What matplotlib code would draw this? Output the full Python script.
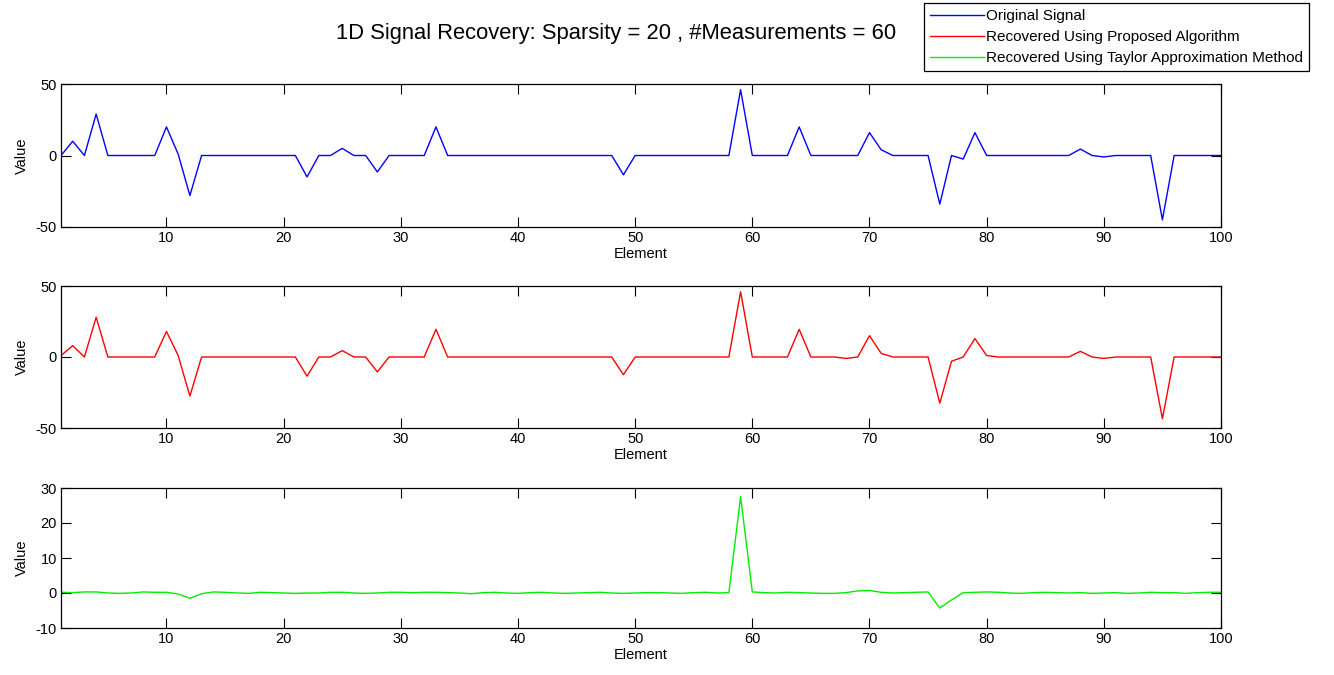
import matplotlib
matplotlib.use("Agg")
import matplotlib.pyplot as plt
import numpy as np

plt.rcParams['font.family'] = ['Liberation Sans', 'DejaVu Sans']
plt.rcParams['axes.unicode_minus'] = False

element = list(range(1, 101))

original = [0, 10, 0, 29, 0, 0, 0, 0, 0, 20,
            1, -28, 0, 0, 0, 0, 0, 0, 0, 0,
            0, -15, 0, 0, 5, 0, 0, -11.5, 0, 0,
            0, 0, 20, 0, 0, 0, 0, 0, 0, 0,
            0, 0, 0, 0, 0, 0, 0, 0, -13.5, 0,
            0, 0, 0, 0, 0, 0, 0, 0, 46, 0,
            0, 0, 0, 20, 0, 0, 0, 0, 0, 16,
            4, 0, 0, 0, 0, -34, 0, -2.5, 16, 0,
            0, 0, 0, 0, 0, 0, 0, 4.5, 0, -1,
            0, 0, 0, 0, -45, 0, 0, 0, 0, 0]

proposed = [1, 8, 0, 28, 0, 0, 0, 0, 0, 18,
            1, -27.5, 0, 0, 0, 0, 0, 0, 0, 0,
            0, -13.5, 0, 0, 4.5, 0, 0, -10.5, 0, 0,
            0, 0, 19.5, 0, 0, 0, 0, 0, 0, 0,
            0, 0, 0, 0, 0, 0, 0, 0, -12.5, 0,
            0, 0, 0, 0, 0, 0, 0, 0, 46, 0,
            0, 0, 0, 19.5, 0, 0, 0, -1, 0, 15,
            2.5, 0, 0, 0, 0, -32.5, -3, 0, 13, 1,
            0, 0, 0, 0, 0, 0, 0, 4, 0, -1,
            0, 0, 0, 0, -43.5, 0, 0, 0, 0, 0]

taylor = [0.2, 0.1, 0.3, 0.3, 0.0, -0.1, 0.0, 0.3, 0.2, 0.2,
          -0.3, -1.5, -0.2, 0.3, 0.2, 0.0, -0.1, 0.2, 0.1, 0.0,
          -0.1, 0.0, 0.0, 0.2, 0.2, 0.0, -0.1, 0.0, 0.2, 0.2,
          0.1, 0.2, 0.2, 0.1, 0.0, -0.2, 0.1, 0.2, 0.0, -0.1,
          0.1, 0.2, 0.0, -0.1, 0.0, 0.1, 0.2, 0.0, -0.1, 0.0,
          0.1, 0.1, 0.0, -0.1, 0.1, 0.2, 0.0, 0.1, 27.5, 0.3,
          0.1, 0.0, 0.2, 0.1, 0.0, -0.1, -0.1, 0.1, 0.6, 0.7,
          0.2, 0.0, 0.1, 0.2, 0.3, -4.3, -2.0, 0.1, 0.2, 0.3,
          0.2, 0.0, -0.1, 0.1, 0.2, 0.1, 0.0, 0.1, -0.1, 0.0,
          0.1, -0.1, 0.0, 0.2, 0.1, 0.1, -0.1, 0.1, 0.2, 0.2]

series = [original, proposed, taylor]
colors = ['#0000ff', '#ff0000', '#00ee00']
labels = ['Original Signal', 'Recovered Using Proposed Algorithm',
          'Recovered Using Taylor Approximation Method']
ylims = [(-50, 50), (-50, 50), (-10, 30)]
yticks = [[-50, 0, 50], [-50, 0, 50], [-10, 0, 10, 20, 30]]
xticks = [10, 20, 30, 40, 50, 60, 70, 80, 90, 100]

W, H = 1334, 675
fig = plt.figure(figsize=(W / 100, H / 100), dpi=100)
fig.patch.set_facecolor('white')

# axes boxes in pixels: (left, top, right, bottom)
boxes = [(61, 84, 1221, 227), (61, 286, 1221, 428), (61, 488, 1221, 628)]

handles = []
for i, (l, t, r, b) in enumerate(boxes):
    ax = fig.add_axes([l / W, 1 - b / H, (r - l) / W, (b - t) / H])
    h, = ax.plot(element, series[i], color=colors[i], lw=1.0)
    handles.append(h)
    ax.set_xlim(1, 100)
    ax.set_ylim(*ylims[i])
    ax.set_xticks(xticks)
    ax.set_yticks(yticks[i])
    ax.tick_params(direction='in', top=True, right=True, length=7, width=0.8,
                   labelsize=10.5, pad=3, colors='black')
    for s in ax.spines.values():
        s.set_linewidth(0.9)
        s.set_color('black')
    ax.set_xlabel('Element', fontsize=10.5, labelpad=1)
    ax.set_ylabel('Value', fontsize=10.5, labelpad=5)

fig.text(616 / W, 1 - 33 / H,
         '1D Signal Recovery: Sparsity = 20 , #Measurements = 60',
         ha='center', va='center', fontsize=15.8)

leg = fig.legend(handles, labels, loc='upper left',
                 bbox_to_anchor=(924 / W, 1 - 3 / H),
                 fontsize=11, frameon=True, fancybox=False,
                 edgecolor='black', framealpha=1, handlelength=3.5,
                 handletextpad=0.15, borderpad=0.4, labelspacing=0.45,
                 borderaxespad=0)
leg.get_frame().set_linewidth(0.9)

fig.savefig('out.png', dpi=100, facecolor='white')
